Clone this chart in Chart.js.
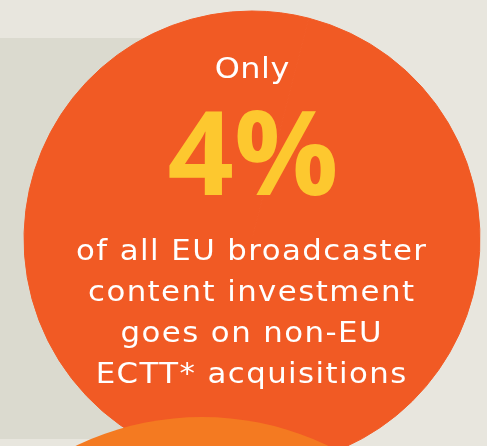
<!DOCTYPE html>
<html>
<head>
<meta charset="utf-8">
<script src="https://cdn.jsdelivr.net/npm/chart.js@4"></script>
<style>
  html, body { margin: 0; padding: 0; overflow: hidden; background: #e8e6de; }
  .stage { position: relative; width: 487px; height: 446px; overflow: hidden; }
  .panel { position: absolute; left: 0; top: 38px; width: 260px; height: 401px; background: #dbdacf; }
  #share { position: absolute; left: 0; top: 0; }
  .lower { position: absolute; left: -88px; top: 417px; width: 580px; height: 580px; border-radius: 50%; background: #f47a21; }
</style>
</head>
<body>
<div class="stage">
  <div class="panel"></div>
  <canvas id="share" width="487" height="480"></canvas>
  <div class="lower"></div>
</div>
<script>
// share of EU broadcaster content investment
const shareLabels = ['Non-EU ECTT* acquisitions', 'Other content investment'];
const shareValues = [4, 96];
const headline = 'Only';
const bodyLines = [
  'of all EU broadcaster',
  'content investment',
  'goes on non-EU',
  'ECTT* acquisitions'
];

// wide geometric look: stretch a bit and open up the spacing
function wideText(ctx, text, x, y, sx, gap) {
  ctx.save();
  ctx.translate(x, y);
  ctx.scale(sx, 1);
  ctx.letterSpacing = gap.toFixed(2) + 'px';
  ctx.fillText(text, gap / 2, 0);
  ctx.restore();
}

const textPlugin = {
  id: 'infoText',
  afterDraw(chart) {
    const ctx = chart.ctx;
    const cx = 251;
    const sx = 1.1;
    ctx.save();
    ctx.textAlign = 'center';
    ctx.textBaseline = 'alphabetic';

    ctx.fillStyle = '#ffffff';
    ctx.font = '400 29px "DejaVu Sans"';
    wideText(ctx, headline, cx + 1, 78, sx, 0.5);

    ctx.fillStyle = '#fdc82f';
    ctx.font = '700 116px "Open Sans"';
    ctx.fillText(shareValues[0] + '%', cx + 2, 195);

    ctx.fillStyle = '#ffffff';
    ctx.font = '400 28px "DejaVu Sans"';
    const w0 = ctx.measureText(bodyLines[0]).width;
    const gap = Math.max((350 / sx - w0) / (bodyLines[0].length - 1), 0);
    bodyLines.forEach((line, i) => {
      wideText(ctx, line, cx, 260 + i * 41, sx, gap);
    });
    ctx.restore();
  }
};

new Chart(document.getElementById('share'), {
  type: 'pie',
  data: {
    labels: shareLabels,
    datasets: [{
      data: shareValues,
      backgroundColor: '#f15a24',
      borderColor: '#f15a24',
      borderWidth: 1,
      hoverOffset: 0
    }]
  },
  options: {
    responsive: false,
    animation: false,
    events: [],
    radius: 228,
    layout: { padding: { left: 24, right: 7, top: 11, bottom: 13 } },
    plugins: {
      legend: { display: false },
      tooltip: { enabled: false }
    }
  },
  plugins: [textPlugin]
});
</script>
</body>
</html>
